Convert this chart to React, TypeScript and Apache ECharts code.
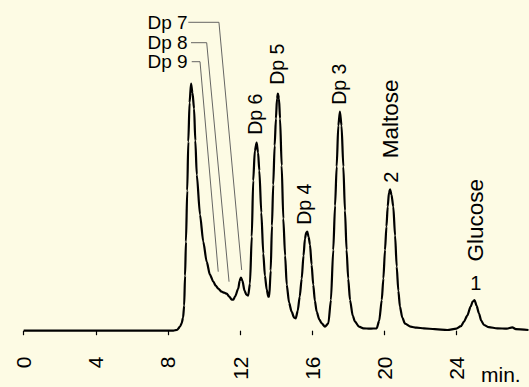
import React, { useEffect, useRef } from "react";
import * as echarts from "echarts";

// Chromatogram trace: retention time (min) and detector signal (arbitrary units)
const timeMin = [
  0, 8.3, 8.5, 8.67, 8.76, 8.84, 8.9, 8.95, 9.0, 9.07, 9.13, 9.2, 9.28, 9.36, 9.45, 9.52, 9.6, 9.78, 9.96,
  10.15, 10.33, 10.52, 10.65, 10.79, 10.98, 11.12, 11.26, 11.4, 11.54, 11.63, 11.72, 11.9, 11.98, 12.05,
  12.13, 12.25, 12.35, 12.45, 12.55, 12.65, 12.73, 12.82, 12.92, 13.0, 13.07, 13.18, 13.29, 13.38, 13.48,
  13.57, 13.62, 13.7, 13.77, 13.84, 13.92, 13.99, 14.05, 14.1, 14.16, 14.22, 14.31, 14.4, 14.5, 14.59,
  14.72, 14.86, 15.0, 15.09, 15.2, 15.31, 15.42, 15.52, 15.6, 15.67, 15.73, 15.8, 15.88, 15.97, 16.06,
  16.15, 16.25, 16.4, 16.53, 16.71, 16.9, 17.04, 17.17, 17.27, 17.36, 17.45, 17.54, 17.63, 17.73, 17.82,
  17.91, 18.0, 18.1, 18.25, 18.38, 18.6, 18.84, 19.2, 19.58, 19.72, 19.86, 19.95, 20.04, 20.12, 20.19,
  20.26, 20.32, 20.4, 20.5, 20.6, 20.69, 20.78, 20.87, 21.0, 21.15, 21.46, 21.8, 22.2, 22.8, 23.5, 24.0,
  24.25, 24.42, 24.6, 24.79, 24.9, 25.01, 25.12, 25.25, 25.38, 25.53, 25.8, 26.27, 26.8, 27.1, 27.3, 28,
];
const signal = [
  0, 0, 0.8, 4, 7.4, 13, 25, 55, 89, 140, 189, 228, 247, 238, 222, 190, 156, 116, 89,
  69, 56, 49, 45, 42, 39, 38, 37, 34, 31, 31, 34, 42, 50, 53,
  50, 40, 36, 35, 47, 94, 150, 180, 188, 178, 160, 118, 77, 55, 41,
  34, 34, 60, 105, 146, 185, 212, 232, 237, 232, 212, 165, 112, 75, 46,
  28, 19, 13, 12.4, 20, 34, 52, 75, 92, 98, 99, 94, 86, 66, 46,
  30, 19, 11, 7.4, 4, 7.4, 30.7, 80.7, 125, 164, 205, 219, 205, 164, 120,
  80.7, 52, 30.7, 15, 9, 4, 2.4, 2, 2.4, 10, 30.7, 52, 80.7, 104, 124,
  138, 141.4, 136, 124, 95, 64, 40, 24, 13, 7, 4, 3, 2.4, 1.5, 0.7, 2,
  4.5, 9, 15, 24, 29, 30.7, 25, 17.4, 10, 5.7, 3.5, 2.4, 2, 3.4, 1.5, 0.7,
];

const xTicks = [0, 4, 8, 12, 16, 20, 24];
const axisUnit = "min.";

// Rotated peak labels (anchor = start of text, in data coordinates)
const peakLabelText = ["Dp 6", "Dp 5", "Dp 4", "Dp 3", "2", "Maltose", "Glucose"];
const peakLabelTime = [12.81, 14.05, 15.54, 17.5, 20.36, 20.33, 25.06];
const peakLabelHeight = [195.9, 245.9, 105.9, 225.9, 148, 172.5, 69.2];
const peakLabelSize = [19.5, 19.5, 19.5, 19.5, 20, 22.5, 22.5];

// Upright peak number for glucose
const glucoseNumberText = "1";
const glucoseNumberTime = 25.08;
const glucoseNumberHeight = 47.4;

// Leader-line labels
const leaderText = ["Dp 7", "Dp 8", "Dp 9"];
const leaderLabelTime = [9.09, 9.09, 9.09];
const leaderLabelHeight = [307.9, 288.7, 269.7];
const leaderDp7 = [[9.13, 308.4], [10.83, 308.4], [12.09, 60.7]];
const leaderDp8 = [[9.28, 288], [10.15, 288], [11.39, 49]];
const leaderDp9 = [[9.32, 269], [9.78, 269], [10.79, 59]];

const BG = "#fdfbe4";
const FONT = "'Liberation Sans', Arial, Helvetica, sans-serif";

export default function App() {
  const ref = useRef<HTMLDivElement>(null);

  useEffect(() => {
    document.body.style.margin = "0";
    document.body.style.background = BG;
    const el = ref.current;
    if (!el) return;
    const chart = echarts.init(el, null, { renderer: "svg" });

    const leaderSeries = [leaderDp7, leaderDp8, leaderDp9].map((pts, i) => ({
      type: "line",
      name: leaderText[i],
      data: pts,
      symbol: "none",
      silent: true,
      lineStyle: { color: "#555", width: 0.9 },
      z: 1,
    }));

    chart.setOption({
      animation: false,
      backgroundColor: BG,
      grid: { left: 23.7, right: 0.5, top: 0, bottom: 45.5, containLabel: false, outerBoundsMode: "none" },
      xAxis: {
        type: "value",
        min: 0,
        max: 28,
        interval: 4,
        axisLine: { show: false },
        splitLine: { show: false },
        axisTick: { show: true, length: 4.5, customValues: xTicks, lineStyle: { color: "#000", width: 1.2 } },
        axisLabel: {
          rotate: 90,
          margin: 15,
          fontSize: 21,
          fontFamily: FONT,
          color: "#000",
          customValues: xTicks,
          formatter: (v: number) => (xTicks.indexOf(v) >= 0 ? String(v) : ""),
        },
      },
      yAxis: { type: "value", min: -10.8, max: 330.7, show: false },
      series: [
        {
          type: "line",
          name: "signal",
          data: timeMin.map((t, i) => [t, signal[i]]),
          symbol: "none",
          smooth: 0.25,
          smoothMonotone: "x",
          lineStyle: { color: "#000", width: 2.2 },
          z: 3,
        },
        ...leaderSeries,
      ],
    });

    const px = (t: number, h: number) => chart.convertToPixel({ gridIndex: 0 }, [t, h]) as number[];
    const graphics: any[] = [];
    peakLabelText.forEach((txt, i) => {
      const [x, y] = px(peakLabelTime[i], peakLabelHeight[i]);
      graphics.push({
        type: "text",
        x,
        y,
        rotation: Math.PI / 2,
        silent: true,
        style: {
          text: txt,
          fontSize: peakLabelSize[i],
          fontFamily: FONT,
          fill: "#000",
          align: "left",
          verticalAlign: "middle",
        },
      });
    });
    {
      const [x, y] = px(glucoseNumberTime, glucoseNumberHeight);
      graphics.push({
        type: "text",
        x,
        y,
        silent: true,
        style: { text: glucoseNumberText, fontSize: 20, fontFamily: FONT, fill: "#000", align: "center", verticalAlign: "middle" },
      });
    }
    leaderText.forEach((txt, i) => {
      const [x, y] = px(leaderLabelTime[i], leaderLabelHeight[i]);
      graphics.push({
        type: "text",
        x,
        y,
        silent: true,
        style: {
          text: txt,
          fontSize: 19,
          lineHeight: 17,
          fontFamily: FONT,
          fill: "#000",
          align: "right",
          verticalAlign: "middle",
        },
      });
    });
    graphics.push({
      type: "text",
      x: 481,
      y: 374.7,
      silent: true,
      style: { text: axisUnit, fontSize: 21, fontFamily: FONT, fill: "#000", align: "left", verticalAlign: "middle" },
    });
    chart.setOption({ graphic: graphics });

    return () => chart.dispose();
  }, []);

  return <div ref={ref} style={{ width: 529, height: 387, background: BG }} />;
}
